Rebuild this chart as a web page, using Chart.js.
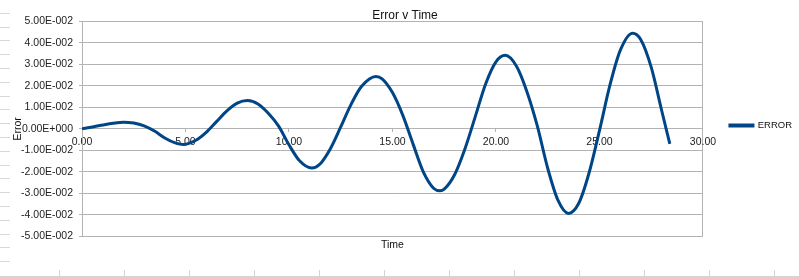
<!DOCTYPE html>
<html>
<head>
<meta charset="utf-8">
<script src="https://cdn.jsdelivr.net/npm/chart.js@4.4.1/dist/chart.umd.min.js"></script>
<style>
  body { margin: 0; background: #fff; }
  #wrap {
    position: relative; width: 799px; height: 277px;
    background:
      linear-gradient(#d4d4d4, #d4d4d4) 0 276px / 799px 1px no-repeat,
      repeating-linear-gradient(to right, transparent 0 59px, #d4d4d4 59px 60px, transparent 60px 65px) 0 270px / 799px 6px no-repeat,
      repeating-linear-gradient(to bottom, transparent 0 12.8px, #d8d8d8 12.8px 13.8px) 0 0 / 10px 270px no-repeat;
  }
  canvas { position: absolute; left: 0; top: 0; }
</style>
</head>
<body>
<div id="wrap"><canvas id="myChart" width="799" height="277"></canvas></div>
<script>
// values
var times = [0, 0.5, 1, 1.5, 2, 2.5, 3, 3.5, 4, 4.5, 4.9, 5.5, 6, 6.5, 7, 7.5, 8, 8.5, 9, 9.5,
  10, 10.5, 11.1, 11.5, 12, 12.5, 13, 13.5, 14.2, 14.5, 15, 15.5, 16, 16.5, 17, 17.3, 17.5, 18, 18.5,
  19, 19.5, 20, 20.45, 21, 21.5, 22, 22.5, 23, 23.5, 24, 24.5, 25, 25.5, 26, 26.6, 27, 27.5, 28, 28.4];
var errors = [0, 0.0009, 0.0018, 0.0026, 0.0031, 0.0027, 0.0014, -0.0010, -0.0042, -0.0065, -0.0073, -0.0053, -0.0016, 0.0034, 0.0084, 0.0120, 0.0132, 0.0116, 0.0073, 0.0013,
  -0.0074, -0.0147, -0.0182, -0.0163, -0.0092, 0.0009, 0.0114, 0.0197, 0.0244, 0.0233, 0.0169, 0.0063, -0.0072, -0.0202, -0.0277, -0.0288, -0.0280, -0.0213, -0.0093,
  0.0057, 0.0209, 0.0312, 0.0342, 0.0290, 0.0172, 0.0013, -0.0183, -0.0333, -0.0393, -0.0346, -0.0204, -0.0008, 0.0201, 0.0364, 0.0445, 0.0415, 0.0287, 0.0088, -0.0070];
var seriesName = 'ERROR';
var xMin = 0, xMax = 30, xStep = 5;
var yMin = -0.05, yMax = 0.05, yStep = 0.01;

var LINE = '#004586';
var GRID = '#b3b3b3';
var FONT = 'Liberation Sans, Arial, sans-serif';

function sci(v) {
  if (Math.abs(v) < 1e-12) return '0.00E+000';
  var p = Number(v).toExponential(2).split('e');
  var e = parseInt(p[1], 10);
  var es = (e < 0 ? '-' : '+') + String(Math.abs(e)).padStart(3, '0');
  return p[0] + 'E' + es;
}

var pts = times.map(function (t, i) { return { x: t, y: errors[i] }; });

new Chart('myChart', {
  type: 'line',
  data: {
    datasets: [{
      label: seriesName,
      data: pts,
      borderColor: LINE,
      backgroundColor: LINE,
      borderWidth: 3,
      pointRadius: 0,
      cubicInterpolationMode: 'monotone',
      xAxisID: 'x',
      yAxisID: 'y'
    }]
  },
  options: {
    responsive: false,
    animation: false,
    layout: { padding: { left: 8, right: -3, top: 0, bottom: 26 } },
    plugins: {
      title: {
        display: true, text: 'Error v Time', color: '#111',
        font: { family: FONT, size: 12, weight: 'normal' },
        padding: { top: 8, bottom: -1 }
      },
      legend: {
        position: 'right',
        labels: {
          color: '#111', boxWidth: 23, boxHeight: 1, padding: 3,
          font: { family: FONT, size: 9.5 }
        }
      },
      tooltip: { enabled: false }
    },
    scales: {
      x: {
        type: 'linear', min: xMin, max: xMax,
        position: { y: 0 },
        ticks: { stepSize: xStep, color: '#222', padding: 4, font: { family: FONT, size: 10.5 },
          callback: function (v) { return Number(v).toFixed(2); } },
        grid: {
          color: function (c) { return c.tick && c.tick.value === xMax ? GRID : 'rgba(0,0,0,0)'; },
          tickColor: GRID, tickLength: 3
        },
        border: { display: false }
      },
      x2: {
        type: 'linear', min: xMin, max: xMax, position: 'bottom',
        ticks: { display: false },
        grid: { display: false, drawTicks: false },
        border: { display: false },
        title: { display: true, text: 'Time', color: '#111', font: { family: FONT, size: 10.5 }, padding: { top: 2, bottom: 0 } }
      },
      y: {
        min: yMin, max: yMax,
        afterFit: function (s) { s.width = 74; },
        ticks: { stepSize: yStep, color: '#222', padding: 6, font: { family: FONT, size: 10.5 },
          callback: function (v) { return sci(v); } },
        grid: { color: GRID, tickColor: GRID, tickLength: 3 },
        border: { color: GRID },
        title: { display: true, text: 'Error', color: '#111', font: { family: FONT, size: 10.5 }, padding: { top: 4, bottom: 0 } }
      },
      y2: {
        position: 'right', min: yMin, max: yMax,
        afterFit: function (s) { s.width = 24; },
        ticks: { display: false },
        grid: { display: false, drawTicks: false },
        border: { display: false }
      }
    }
  }
});
</script>
</body>
</html>
